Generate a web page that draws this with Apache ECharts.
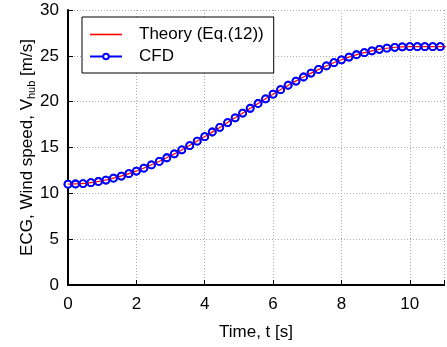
<!DOCTYPE html>
<html>
<head>
<meta charset="utf-8">
<script src="https://cdn.jsdelivr.net/npm/echarts@6/dist/echarts.min.js"></script>
<style>html,body{margin:0;padding:0;background:#fff}#c{width:447px;height:347px}</style>
</head>
<body>
<div id="c"></div>
<script>
// Theory (Eq.(12)) curve
var theoryT = [0, 0.5, 1, 1.5, 2, 2.5, 3, 3.5, 4, 4.5, 5, 5.5, 6, 6.5, 7, 7.5, 8, 8.5, 9, 9.5, 10, 10.5, 11, 11.5];
var theoryV = [11.00, 11.09, 11.37, 11.82, 12.43, 13.20, 14.09, 15.10, 16.18, 17.33, 18.50, 19.67, 20.82, 21.90, 22.91, 23.80, 24.57, 25.18, 25.63, 25.91, 26.00, 26.00, 26.00, 26.00];
// CFD samples
var cfdT = [0, 0.22, 0.44, 0.67, 0.89, 1.11, 1.33, 1.56, 1.78, 2.00, 2.22, 2.44, 2.67, 2.89, 3.11, 3.33, 3.56, 3.78, 4.00, 4.22, 4.44, 4.67, 4.89, 5.11, 5.33, 5.56, 5.78, 6.00, 6.22, 6.44, 6.67, 6.89, 7.11, 7.33, 7.56, 7.78, 8.00, 8.22, 8.44, 8.67, 8.89, 9.11, 9.33, 9.56, 9.78, 10.00, 10.22, 10.44, 10.67, 10.89];
var cfdV = [11.00, 11.02, 11.07, 11.16, 11.29, 11.45, 11.65, 11.88, 12.14, 12.43, 12.75, 13.10, 13.48, 13.88, 14.31, 14.75, 15.21, 15.69, 16.18, 16.69, 17.20, 17.72, 18.24, 18.76, 19.28, 19.80, 20.31, 20.82, 21.31, 21.79, 22.25, 22.69, 23.12, 23.52, 23.90, 24.25, 24.57, 24.86, 25.12, 25.35, 25.55, 25.71, 25.84, 25.93, 25.98, 26.00, 26.00, 26.00, 26.00, 26.00];
var xTicks = [0, 2, 4, 6, 8, 10];
var yTicks = [0, 5, 10, 15, 20, 25, 30];

var FONT = 'Liberation Sans, Arial, sans-serif';
var FS = 17;
var chart = echarts.init(document.getElementById('c'), null, {renderer: 'canvas'});
function pairs(t, v) { return t.map(function (x, i) { return [x, v[i]]; }); }

chart.setOption({
  animation: false,
  backgroundColor: '#fff',
  grid: {left: 68, right: -4, top: 10, bottom: 62},
  legend: {
    left: 82, top: 17, orient: 'vertical',
    backgroundColor: '#fff', borderColor: '#000', borderWidth: 1,
    padding: [9, 10, 8, 7], itemGap: 5, itemWidth: 32, itemHeight: 7,
    textStyle: {fontFamily: FONT, fontSize: FS, color: '#000', padding: [0, 0, 0, 12]},
    data: [
      {name: 'Theory (Eq.(12))', icon: 'path://M0,0 L32,0 L32,1.6 L0,1.6 Z', itemStyle: {color: '#ff0000'}},
      {name: 'CFD'}
    ]
  },
  xAxis: [{
    type: 'value', min: 0, max: 11, interval: 2,
    name: 'Time, t [s]', nameLocation: 'middle', nameGap: 39, nameMoveOverlap: false,
    nameTextStyle: {fontFamily: FONT, fontSize: FS, color: '#000'},
    axisLine: {onZero: false, lineStyle: {color: '#000', width: 2}},
    axisTick: {inside: true, length: 5, lineStyle: {color: '#000', width: 1}},
    axisLabel: {fontFamily: FONT, fontSize: FS, color: '#000', margin: 11,
      formatter: function (v) { return xTicks.indexOf(v) >= 0 ? String(v) : ''; }},
    splitLine: {show: true, lineStyle: {color: '#aaa', type: [1, 2], width: 1}}
  }, {
    type: 'value', position: 'top', min: 0, max: 11, interval: 2,
    axisLine: {show: true, lineStyle: {color: '#000', width: 2}},
    axisTick: {show: false}, axisLabel: {show: false}, splitLine: {show: false}
  }],
  yAxis: {
    type: 'value', min: 0, max: 30, interval: 5,
    name: '{a|ECG, Wind speed, V}{s|hub}{a| [m/s]}', nameLocation: 'middle', nameGap: 31,
    nameMoveOverlap: false,
    nameTextStyle: {
      rich: {
        a: {fontFamily: FONT, fontSize: FS, color: '#000'},
        s: {fontFamily: FONT, fontSize: 11, color: '#000', verticalAlign: 'bottom', padding: [9, 0, 0, 0]}
      }
    },
    axisLine: {show: true, lineStyle: {color: '#000', width: 2}},
    axisTick: {show: true, inside: true, length: 5, lineStyle: {color: '#000', width: 1}},
    axisLabel: {fontFamily: FONT, fontSize: FS, color: '#000', margin: 9,
      formatter: function (v) { return yTicks.indexOf(v) >= 0 ? String(v) : ''; }},
    splitLine: {show: true, lineStyle: {color: '#aaa', type: [1, 2], width: 1}}
  },
  series: [{
    name: 'CFD', type: 'line', data: pairs(cfdT, cfdV),
    symbol: 'circle', symbolSize: 7, showAllSymbol: true,
    lineStyle: {color: '#0000ff', width: 2},
    itemStyle: {color: '#fff', borderColor: '#0000ff', borderWidth: 1.8},
    z: 2
  }, {
    name: 'Theory (Eq.(12))', type: 'line', smooth: true, showSymbol: false, symbol: 'none',
    data: pairs(theoryT, theoryV), lineStyle: {color: '#ff0000', width: 1.2},
    itemStyle: {color: '#ff0000'}, z: 3
  }, {
    name: 'CFD markers', type: 'scatter', data: pairs(cfdT, cfdV),
    symbol: 'circle', symbolSize: 7,
    itemStyle: {color: 'rgba(255,255,255,0)', borderColor: '#0000ff', borderWidth: 1.8, opacity: 1},
    z: 4
  }]
});
</script>
</body>
</html>
